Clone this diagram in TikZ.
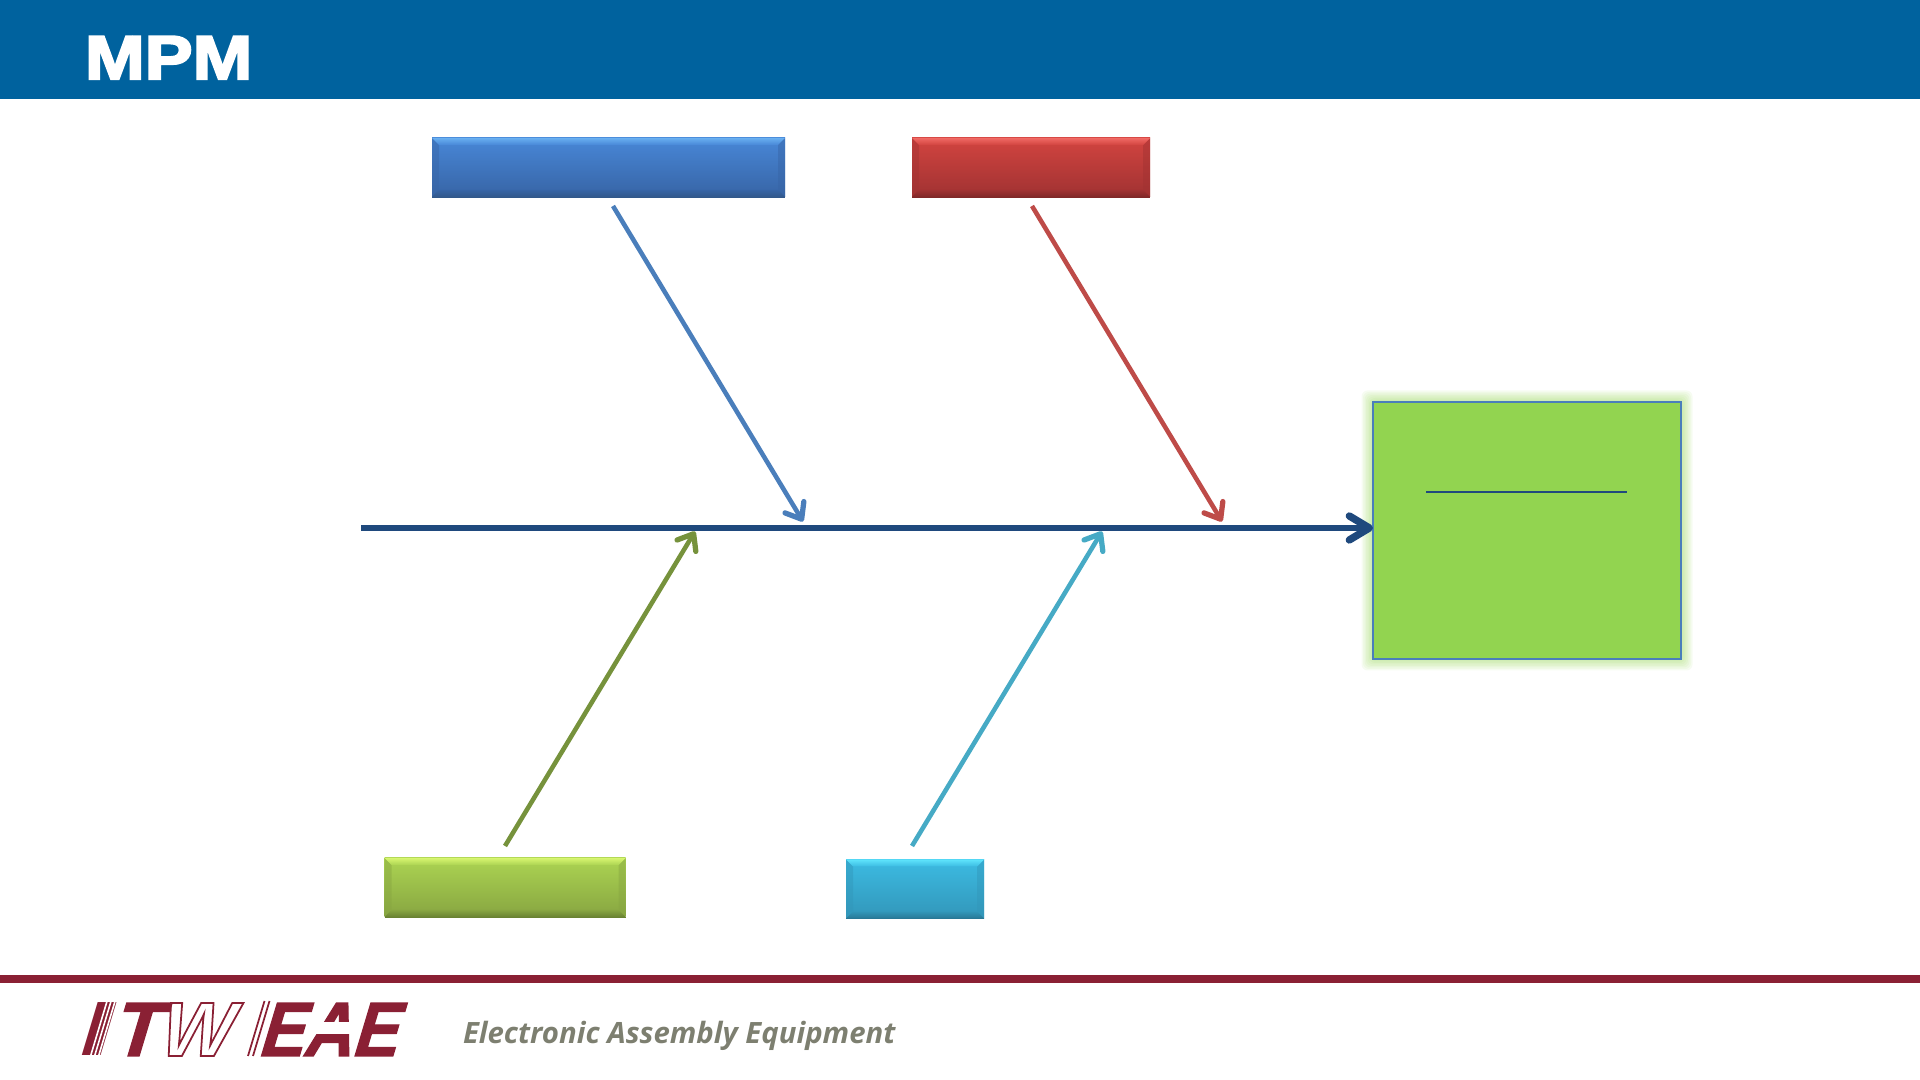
\documentclass[tikz,border=0pt]{standalone}
\usepackage{fontspec}
\usepackage{xcolor}
\usetikzlibrary{arrows.meta}
\newfontfamily\mpmfont[FakeBold=3.6,FakeStretch=1.16]{Liberation Sans Bold}
\newfontfamily\itwfont[FakeSlant=0.3,FakeBold=1.6]{Liberation Sans Bold}
\newfontfamily\stemfont[FakeSlant=0.3,FakeStretch=1.7]{Liberation Sans Bold}
\newfontfamily\outlfont[FakeSlant=0.3]{Liberation Sans Bold}
\newfontfamily\eaefont[FakeSlant=0.3,FakeStretch=0.875,FakeBold=1.6]{Liberation Sans Bold}
\newfontfamily\eaetagfont{Open Sans}
\definecolor{headerblue}{RGB}{0,98,158}
\definecolor{itwred}{RGB}{138,32,52}
\definecolor{taggray}{RGB}{125,127,112}
\definecolor{spineblue}{RGB}{31,73,125}
\definecolor{boneblue}{RGB}{74,126,187}
\definecolor{bonered}{RGB}{190,75,72}
\definecolor{bonegreen}{RGB}{118,146,60}
\definecolor{bonecyan}{RGB}{70,170,197}
\definecolor{effectgreen}{RGB}{146,212,80}
\definecolor{blueTop}{RGB}{72,135,215}
\definecolor{blueBot}{RGB}{55,100,165}
\definecolor{blueHi}{RGB}{105,175,240}
\definecolor{blueLo}{RGB}{50,88,138}
\definecolor{redTop}{RGB}{210,68,64}
\definecolor{redBot}{RGB}{160,50,50}
\definecolor{redHi}{RGB}{240,105,100}
\definecolor{redLo}{RGB}{128,40,40}
\definecolor{greenTop}{RGB}{172,212,82}
\definecolor{greenBot}{RGB}{135,165,65}
\definecolor{greenHi}{RGB}{215,245,112}
\definecolor{greenLo}{RGB}{105,130,50}
\definecolor{cyanTop}{RGB}{60,187,226}
\definecolor{cyanBot}{RGB}{50,150,185}
\definecolor{cyanHi}{RGB}{95,228,252}
\definecolor{cyanLo}{RGB}{40,120,150}
\tikzset{
  bonebox/.style={rectangle,inner sep=0pt,outer sep=0pt},
  bone/.style={line width=1.3pt,-{Straight Barb[round,length=1.4mm,width=2.2mm,line width=1.5pt]}},
  logotext/.style={anchor=base west,inner sep=0pt,outer sep=0pt}
}
\begin{document}
\begin{tikzpicture}[>=stealth]
\useasboundingbox (0,0) rectangle (19.2,10.8);
% header and footer
\fill[headerblue] (0,9.81) rectangle (19.2,10.8);
\node[logotext,text=white,font=\mpmfont\fontsize{17.6}{20}\selectfont] (mpmLogo) at (0.85,10.01) {MPM};
\fill[itwred] (0,0.97) rectangle (19.2,1.05);
\node[logotext,text=itwred,font=\stemfont\fontsize{21.9}{24}\selectfont] (logoI) at (0.73,0.24) {I};
\foreach \cc in {0.90,0.94,0.98}
  \draw[white,line width=0.45pt] (\cc,0.22) -- ++(0.174,0.58);
\node[logotext,text=itwred,font=\itwfont\fontsize{21.9}{24}\selectfont] (logoT) at (1.10,0.24) {T};
\node[logotext,text=itwred,font=\outlfont\fontsize{21.9}{24}\selectfont] (logoW) at (1.55,0.24)
  {\special{pdf:code 1 Tr 0.5 w}W\special{pdf:code 0 Tr}};
\foreach \cc in {2.48,2.53}
  \draw[itwred,line width=0.5pt] (\cc,0.24) -- ++(0.165,0.55);
\node[logotext,text=itwred,font=\eaefont\fontsize{21.9}{24}\selectfont] (logoEAE) at (2.57,0.24) {EAE};
\fill[white] (3.06,0.46) rectangle (3.52,0.58);
\node[logotext,text=taggray,font=\eaetagfont\bfseries\itshape\fontsize{8.35}{10}\selectfont] (tagLine) at (4.63,0.36) {Electronic Assembly Equipment};
% the four category boxes
\foreach \nm/\xx/\yy/\ww/\cc in {blueBox/6.085/9.125/3.53/blue,redBox/10.31/9.125/2.38/red,greenBox/5.05/1.925/2.41/green,cyanBox/9.15/1.91/1.38/cyan}{
  \node[bonebox,minimum width=\ww cm,minimum height=0.59cm,top color=\cc Top,bottom color=\cc Bot] (\nm) at (\xx,\yy) {};
  \fill[\cc Bot,opacity=0.45] (\nm.north west) -- (\nm.south west) -- ([shift={(0.07,0.07)}]\nm.south west) -- ([shift={(0.07,-0.07)}]\nm.north west) -- cycle;
  \fill[\cc Bot,opacity=0.45] (\nm.north east) -- (\nm.south east) -- ([shift={(-0.07,0.07)}]\nm.south east) -- ([shift={(-0.07,-0.07)}]\nm.north east) -- cycle;
  \shade[top color=\cc Hi,bottom color=\cc Top] (\nm.north west) -- (\nm.north east) -- ([shift={(-0.07,-0.07)}]\nm.north east) -- ([shift={(0.07,-0.07)}]\nm.north west) -- cycle;
  \shade[top color=\cc Bot,bottom color=\cc Lo] (\nm.south west) -- (\nm.south east) -- ([shift={(-0.07,0.07)}]\nm.south east) -- ([shift={(0.07,0.07)}]\nm.south west) -- cycle;
  \draw[\cc Lo,line width=0.25pt] (\nm.south west) -- (\nm.south east);
}
% effect box with its glow
\foreach \gg in {0.115,0.10,0.085,0.07,0.055,0.04,0.025,0.01}
  \fill[effectgreen,opacity=0.08,rounded corners=0.06cm] (13.73-\gg,6.78+\gg) rectangle (16.81+\gg,4.21-\gg);
\node[bonebox,draw=boneblue,line width=0.5pt,fill=effectgreen,minimum width=3.08cm,minimum height=2.57cm] (effectBox) at (15.27,5.495) {};
\coordinate (ruleL) at (14.26,5.88);
\coordinate (ruleR) at (16.27,5.88);
\draw[spineblue,line width=0.8pt] (ruleL) -- (ruleR);
% spine and bones
\coordinate (spineTail) at (3.61,5.52);
\draw[spineblue,line width=1.8pt,-{Straight Barb[round,length=2mm,width=2.4mm,line width=2.1pt]}] (spineTail) -- (effectBox.west |- spineTail);
\coordinate (blueFrom) at (6.13,8.74);
\coordinate (blueTo) at (8.03,5.585);
\coordinate (redFrom) at (10.32,8.74);
\coordinate (redTo) at (12.22,5.585);
\coordinate (greenFrom) at (5.05,2.34);
\coordinate (greenTo) at (6.95,5.485);
\coordinate (cyanFrom) at (9.12,2.34);
\coordinate (cyanTo) at (11.02,5.485);
\draw[bone,boneblue] (blueFrom) -- (blueTo);
\draw[bone,bonered] (redFrom) -- (redTo);
\draw[bone,bonegreen] (greenFrom) -- (greenTo);
\draw[bone,bonecyan] (cyanFrom) -- (cyanTo);
\end{tikzpicture}
\end{document}
